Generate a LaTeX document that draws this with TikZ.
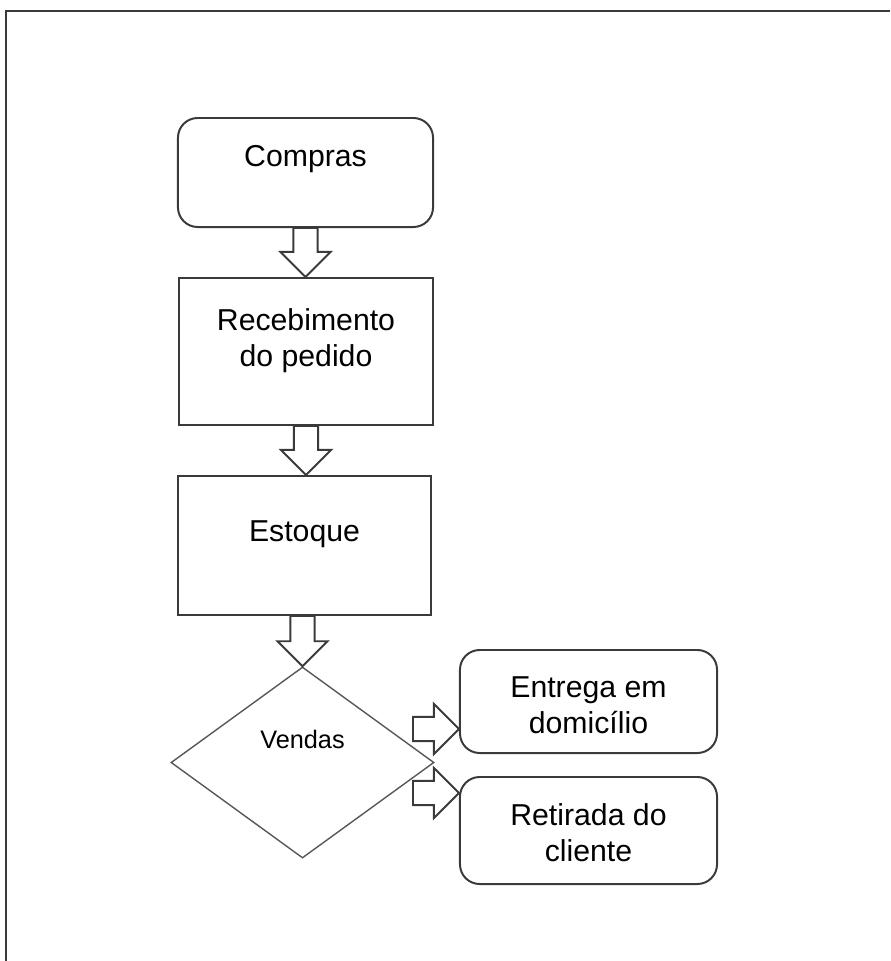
\documentclass[tikz,border=0pt]{standalone}
\usepackage{fontspec}
\setmainfont{Liberation Sans}
\usepackage{tikz}
\usetikzlibrary{shapes.geometric,calc}
\definecolor{linegray}{HTML}{3a3a3a}

\begin{document}
\begin{tikzpicture}[x=0.025cm,y=-0.025cm,
    box/.style={draw=linegray,line width=1.4pt,align=center,inner sep=0pt,
        font=\fontsize{21.5}{25.6}\selectfont,text height=16pt},
    roundbox/.style={box,rounded corners=14pt},
    decision/.style={diamond,draw=linegray!85,line width=1pt,inner sep=0pt,
        font=\fontsize{18}{21.6}\selectfont,text height=13pt,text depth=33.6pt},
    blockarr/.style={draw=linegray,line width=1.4pt,fill=white,line join=miter,
        to path={
            coordinate (ba@s) at (\tikztostart)
            coordinate (ba@t) at (\tikztotarget)
            coordinate (ba@h) at ($(ba@t)!17.8pt!(ba@s)$)
            ($(ba@s)!8.6pt!90:(ba@t)$) -- ($(ba@h)!8.6pt!90:(ba@t)$)
            -- ($(ba@h)!17.8pt!90:(ba@t)$) -- (ba@t)
            -- ($(ba@h)!17.8pt!-90:(ba@t)$) -- ($(ba@h)!8.6pt!-90:(ba@t)$)
            -- ($(ba@s)!8.6pt!-90:(ba@t)$) -- cycle}}]
    \useasboundingbox (0,0) rectangle (890,961);
    % frame of the page
    \draw[linegray,line width=1.2pt] (890,11) -- (6,11) -- (6,961);

    \node[roundbox,minimum width=6.375cm,minimum height=2.725cm,text depth=25.2pt]
        at(305.5,172.5)(compras){Compras};
    \node[box,minimum width=6.35cm,minimum height=3.675cm,text height=30pt,text depth=8pt]
        at(306,351.5)(receb){Recebimento\\do pedido};
    \node[box,minimum width=6.325cm,minimum height=3.475cm,text depth=21.4pt]
        at(304.5,545.5)(estoque){Estoque};
    \node[decision,minimum width=6.575cm,minimum height=4.775cm]
        at(302.5,762.5)(vendas){Vendas};
    \node[roundbox,minimum width=6.425cm,minimum height=2.575cm,text height=50pt,text depth=5.2pt]
        at(588.5,701.5)(entrega){Entrega em\\domicílio};
    \node[roundbox,minimum width=6.425cm,minimum height=2.675cm,text height=50pt,text depth=6.6pt]
        at(588.5,830.5)(retirada){Retirada do\\cliente};

    \coordinate (v1) at (413,729);
    \coordinate (v2) at (413,793);
    \draw[blockarr]
        (compras.south) to (compras.south |- receb.north)
        (receb.south) to (receb.south |- estoque.north)
        (vendas.north |- estoque.south) to (vendas.north)
        (v1) to (entrega.west |- v1)
        (v2) to (retirada.west |- v2);
\end{tikzpicture}
\end{document}
